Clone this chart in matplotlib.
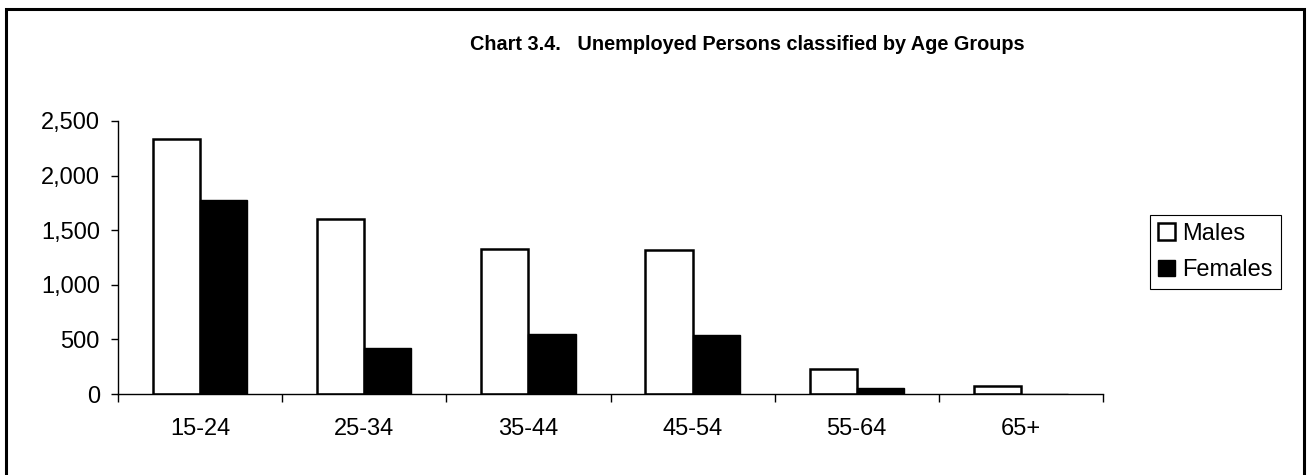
import matplotlib
matplotlib.use('Agg')
import matplotlib.pyplot as plt
from matplotlib.patches import Rectangle
import numpy as np

plt.rcParams['font.family'] = ['Liberation Sans', 'DejaVu Sans']

age_groups = ['15-24', '25-34', '35-44', '45-54', '55-64', '65+']
males = [2335, 1603, 1328, 1319, 226, 71]
females = [1777, 418, 547, 543, 52, 0]
y_ticks = [0, 500, 1000, 1500, 2000, 2500]

fig = plt.figure(figsize=(13.08, 4.75), dpi=100)
ax = fig.add_axes([0.0902, 0.1705, 0.7531, 0.5748])

x = np.arange(len(age_groups))
w = 0.287
ax.bar(x - w / 2, males, w, color='white', edgecolor='black', linewidth=1.8, label='Males')
ax.bar(x + w / 2, females, w, color='black', edgecolor='black', linewidth=1.0, label='Females')

ax.set_xlim(-0.5, len(age_groups) - 0.5)
ax.set_ylim(0, 2500)
ax.set_yticks(y_ticks)
ax.set_yticklabels([f'{v:,}' for v in y_ticks], fontsize=17)
ax.set_xticks(x)
ax.set_xticklabels(age_groups, fontsize=17)
ax.tick_params(axis='x', which='major', length=0, pad=17)
ax.set_xticks(np.arange(-0.5, len(age_groups)), minor=True)
ax.tick_params(axis='x', which='minor', length=6, width=1, direction='out')
ax.tick_params(axis='y', length=5, width=1, direction='out', pad=8)

for side in ['top', 'right']:
    ax.spines[side].set_visible(False)
for side in ['left', 'bottom']:
    ax.spines[side].set_linewidth(1.0)

fig.text(0.571, 0.907, 'Chart 3.4.   Unemployed Persons classified by Age Groups',
         ha='center', va='center', fontsize=14.3, fontweight='bold')

handles = [Rectangle((0, 0), 1, 1, facecolor='white', edgecolor='black', linewidth=1.8),
           Rectangle((0, 0), 1, 1, facecolor='black', edgecolor='black')]
leg = fig.legend(handles, ['Males', 'Females'], loc='upper left',
                 bbox_to_anchor=(0.879, 0.547), bbox_transform=fig.transFigure,
                 fontsize=17, frameon=True, fancybox=False, framealpha=1,
                 edgecolor='black', handlelength=0.75, handleheight=0.7,
                 handletextpad=0.3, borderpad=0.33, labelspacing=0.6,
                 borderaxespad=0)
leg.get_frame().set_linewidth(0.8)

# outer frame
fig.add_artist(Rectangle((0.0045, -0.05), 0.9925, 1.031, transform=fig.transFigure,
                         fill=False, edgecolor='black', linewidth=2.2))

fig.savefig('out.png', dpi=100)
